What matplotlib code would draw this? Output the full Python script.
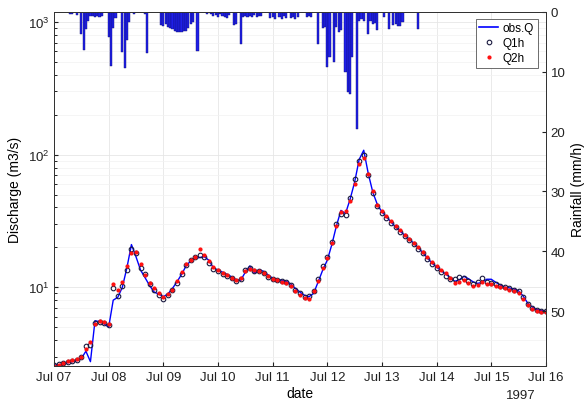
import numpy as np
import matplotlib
matplotlib.use("Agg")
import matplotlib.pyplot as plt
from matplotlib.lines import Line2D
from matplotlib.ticker import LogLocator, FixedLocator, NullFormatter

plt.rcParams['font.family'] = ['Liberation Sans', 'DejaVu Sans']
plt.rcParams['mathtext.fontset'] = 'custom'
plt.rcParams['mathtext.rm'] = 'Liberation Sans'
plt.rcParams['mathtext.default'] = 'regular'

# discharge every 2 hours, starting Jul 07 00:00 (m3/s)
obs_q = [2.6, 2.6, 2.65, 2.7, 2.75, 2.8, 2.9, 3.3, 2.75, 5.6, 5.5, 5.3,
         5.0, 8.0, 8.4, 10, 14, 21, 17, 13.5, 11.8, 10.3, 9.2, 8.9,
         8.5, 8.9, 9.8, 11, 12.5, 14.5, 15.8, 16.5, 16.8, 17, 16, 14,
         13.5, 13, 12.5, 12, 11.4, 11.3, 13, 14.5, 12.8, 13.6, 13.2, 12.4,
         11.7, 11.5, 11.3, 11.1, 10.6, 9.8, 9.2, 8.7, 8.5, 9.0, 11, 13.5,
         16, 21, 29, 38, 36, 46, 62, 92, 108, 72, 52, 42,
         37, 34, 31, 28.5, 26.5, 24.7, 23, 21.5, 19.8, 18.2, 16.6, 15.2,
         14.2, 13.3, 12.6, 11.8, 11.1, 11.4, 12.1, 11.6, 11.0, 10.7, 10.9, 11.5,
         11.5, 10.9, 10.4, 10.0, 9.9, 9.7, 9.4, 8.6, 7.6, 7.1, 6.8, 6.7,
         6.6]
q1h = [2.6, 2.65, 2.7, 2.75, 2.8, 2.85, 3.0, 3.6, 3.7, 5.4, 5.5, 5.4,
       5.2, 9.8, 8.6, 10.3, 13.5, 19.5, 18, 14, 12.5, 10.5, 9.5, 8.7,
       8.2, 8.7, 9.6, 10.8, 12.6, 14.7, 16, 16.8, 17.5, 16.8, 15.3, 13.8,
       13.2, 12.7, 12.2, 11.7, 11.2, 11.6, 13.6, 13.9, 13.2, 13.2, 12.8, 12.0,
       11.6, 11.4, 11.2, 10.9, 10.4, 9.6, 9.0, 8.5, 8.6, 9.4, 11.5, 14.5,
       17, 22, 30, 36, 35, 47, 65, 90, 100, 70, 51, 41,
       36.5, 33.5, 30.5, 28.3, 26.2, 24.5, 22.7, 21.3, 19.5, 18, 16.4, 15.0,
       14, 13.1, 12.2, 11.5, 11.6, 12.0, 11.8, 11.2, 10.6, 10.9, 11.7, 11.0,
       10.7, 10.5, 10.3, 10.1, 9.8, 9.5, 9.3, 8.4, 7.5, 7.0, 6.7, 6.6,
       6.6]
q2h = [2.55, 2.6, 2.7, 2.8, 2.85, 2.9, 3.0, 3.4, 3.9, 5.3, 5.6, 5.5,
       5.3, 10.5, 9.5, 11, 14.5, 18, 18.5, 15, 12.3, 10.8, 9.8, 9.0,
       8.5, 8.9, 9.6, 11.2, 13, 15, 16.2, 17, 19.5, 17.5, 15.8, 14.2,
       13.4, 12.9, 12.3, 11.8, 11.4, 11.7, 13.2, 13.8, 13.5, 13.3, 12.9, 12.1,
       11.5, 11.3, 11.0, 10.7, 10.2, 9.4, 8.8, 8.3, 8.2, 9.3, 11.2, 14.0,
       16.5, 21.5, 29, 37, 37.5, 45, 60, 85, 95, 72, 53, 42,
       37.5, 34.5, 31.5, 29, 27, 25, 23.2, 21.7, 20, 18.4, 16.8, 15.4,
       14.4, 13.5, 12.8, 11.8, 10.8, 11.0, 11.4, 10.8, 10.3, 10.4, 11.0, 10.6,
       10.5, 10.2, 10.0, 9.8, 9.6, 9.4, 9.1, 8.2, 7.3, 6.9, 6.6, 6.5,
       6.5]

# hourly rainfall (hour since Jul 07 00:00, mm/h)
rain_hour = [7, 8, 10, 12, 13, 14, 15, 16, 17, 18, 19, 20, 21,
             24, 25, 26, 27, 30, 31, 32, 33, 35, 40, 41,
             47, 48, 49, 50, 51, 52, 53, 54, 55, 56, 57, 58, 59, 60, 61, 63,
             67, 69, 70, 71, 72, 73, 74, 75, 76, 77, 79, 80, 82,
             83, 84, 85, 86, 87, 88, 89, 90, 91,
             95, 96, 97, 99, 100, 101, 102, 104, 105, 106, 107, 111, 112, 113,
             116, 118, 119, 120, 121, 123, 124, 125, 126, 128, 129, 130, 131, 133,
             134, 135, 136, 138, 139, 140, 141, 142, 145, 147, 149, 150, 151, 152,
             153, 160]
rain_mm = [0.3, 0.4, 0.5, 3.7, 6.3, 2.8, 1.5, 0.7, 0.6, 0.9, 0.7, 0.8, 0.6,
           4.2, 9.0, 2.6, 1.0, 6.7, 9.3, 4.7, 1.7, 0.4, 0.4, 6.9,
           2.2, 2.3, 2.0, 2.5, 2.7, 2.8, 3.1, 3.3, 3.4, 3.4, 3.2, 3.2, 2.6, 2.0, 1.6, 6.5,
           0.4, 0.3, 0.6, 0.5, 0.9, 0.4, 0.7, 0.8, 1.0, 0.5, 2.2, 2.0, 5.3,
           0.8, 0.6, 0.9, 0.7, 0.8, 0.5, 0.9, 0.7, 0.6,
           1.0, 0.8, 1.1, 0.9, 1.2, 0.7, 1.0, 1.0, 0.8, 1.1, 0.9, 0.8, 0.6, 0.9,
           5.3, 2.7, 2.5, 9.2, 7.5, 8.4, 2.5, 3.3, 3.0, 10.0, 13.4, 13.7, 7.5, 19.5,
           1.5, 1.2, 1.5, 3.6, 1.5, 2.0, 1.8, 3.0, 0.8, 2.8, 2.2, 2.0, 2.4, 2.3,
           1.6, 2.8]

day_labels = ['Jul 07', 'Jul 08', 'Jul 09', 'Jul 10', 'Jul 11',
              'Jul 12', 'Jul 13', 'Jul 14', 'Jul 15', 'Jul 16']

t_q = np.arange(len(obs_q)) * 2 / 24.0
t_rain = np.array(rain_hour) / 24.0

fig = plt.figure(figsize=(5.87, 4.06), dpi=100)
ax = fig.add_axes([0.092, 0.096, 0.838, 0.872])
ax.set_yscale('log')

ax.plot(t_q, obs_q, color='#0000ff', lw=1.0, zorder=3)
ax.plot(t_q, q1h, ls='none', marker='o', ms=3.3, mfc='none', mec='#1b1b40', mew=0.8, zorder=4)
ax.plot(t_q, q2h, ls='none', marker='.', ms=4.0, color='#ff1010', zorder=5)

ax.set_xlim(0, 9)
ax.set_ylim(2.55, 1190)
ax.set_xticks(np.arange(10))
ax.set_xticklabels(day_labels)
ax.yaxis.set_major_locator(FixedLocator([10, 100, 1000]))
ax.set_yticklabels(['$10^1$', '$10^2$', '$10^3$'])
ax.yaxis.set_minor_locator(LogLocator(base=10, subs=np.arange(2, 10)))
ax.yaxis.set_minor_formatter(NullFormatter())
ax.tick_params(direction='in', length=3, labelsize=9.5, colors='#222222')
ax.tick_params(which='minor', direction='in', length=2)
ax.grid(True, which='major', color='#e6e6e6', lw=0.6)
ax.grid(True, which='minor', axis='y', color='#f2f2f2', lw=0.5)
ax.set_axisbelow(True)
ax.set_ylabel('Discharge (m3/s)', fontsize=10, labelpad=4)
ax.set_xlabel('date', fontsize=10, labelpad=2)
for s in ax.spines.values():
    s.set_color('#333333')
    s.set_linewidth(0.7)

ax2 = ax.twinx()
ax2.bar(t_rain, rain_mm, width=0.95 / 24, color='#1f1fe8', edgecolor='#10107a', lw=0.3)
ax2.set_ylim(59.2, 0)
ax2.set_yticks([0, 10, 20, 30, 40, 50])
ax2.tick_params(direction='in', length=3, labelsize=9.5, colors='#222222')
ax2.set_ylabel('Rainfall (mm/h)', fontsize=10, labelpad=4)
ax2.set_xlim(0, 9)
for s in ax2.spines.values():
    s.set_color('#333333')
    s.set_linewidth(0.7)

fig.text(0.887, 0.018, '1997', fontsize=9.5, color='#222222', ha='center')

handles = [Line2D([], [], color='#0000ff', lw=1.2),
           Line2D([], [], ls='none', marker='o', ms=3.3, mfc='none', mec='#1b1b40', mew=0.8),
           Line2D([], [], ls='none', marker='.', ms=4.0, color='#ff1010')]
leg = ax2.legend(handles, ['obs.Q', 'Q1h', 'Q2h'], loc='upper right', fontsize=8.5,
                 handlelength=1.6, handletextpad=0.4, borderpad=0.3, labelspacing=0.25,
                 fancybox=False, framealpha=1, edgecolor='#555555',
                 bbox_to_anchor=(0.995, 0.998))
leg.get_frame().set_linewidth(0.6)

fig.savefig('out.png', dpi=100)
